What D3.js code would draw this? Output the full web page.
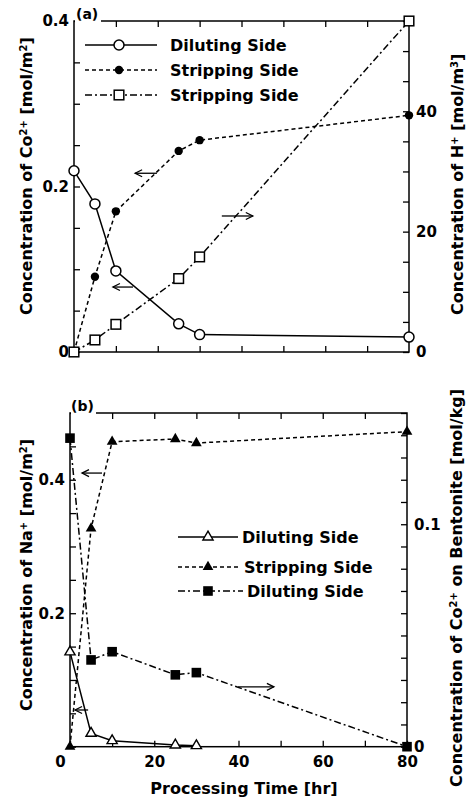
<!DOCTYPE html>
<html><head><meta charset="utf-8">
<script src="https://cdn.jsdelivr.net/npm/d3@7"></script>
<style>
body{margin:0;background:#fff}
svg{display:block}
text{font-family:"DejaVu Sans",sans-serif;font-weight:bold;fill:#000}
</style>
</head><body>
<svg id="c" width="466" height="800"></svg>
<script>
// ---------- data ----------
const times = [0, 5, 10, 25, 30, 80];
// panel (a)
const coDiluting  = [0.219, 0.179, 0.098, 0.034, 0.021, 0.018];   // mol/m2, left axis
const coStripping = [0, 0.091, 0.170, 0.243, 0.256, 0.286];       // mol/m2, left axis
const hStripping  = [0, 2.0, 4.6, 12.2, 15.8, 55];                // mol/m3, right axis
// panel (b)
const timesNaDil  = [0, 5, 10, 25, 30];
const naDiluting  = [0.142, 0.020, 0.009, 0.0025, 0.0015];        // mol/m2, left axis
const naStripping = [0, 0.327, 0.457, 0.461, 0.455, 0.472];       // mol/m2, left axis
const coBentonite = [0.1387, 0.039, 0.0427, 0.0323, 0.0333, 0];   // mol/kg, right axis
// ticks / labels
const xMinorTicks = [0, 10, 20, 30, 40, 50, 60, 70, 80];
const xLabelTicks = [0, 20, 40, 60, 80];
const aLeftTicks = [0, 0.05, 0.1, 0.15, 0.2, 0.25, 0.3, 0.35, 0.4];
const aLeftLabels = [0, 0.2, 0.4];
const aRightTicks = [0, 5, 10, 15, 20, 25, 30, 35, 40, 45, 50, 55];
const aRightLabels = [0, 20, 40];
const bLeftTicks = [0, 0.05, 0.1, 0.15, 0.2, 0.25, 0.3, 0.35, 0.4, 0.45, 0.5];
const bLeftLabels = [0.2, 0.4];
const bRightTicks = [0, 0.01, 0.02, 0.03, 0.04, 0.05, 0.06, 0.07, 0.08, 0.09, 0.1, 0.11, 0.12, 0.13, 0.14, 0.15];
const bRightLabels = [0, 0.1];
const legendA = ["Diluting Side", "Stripping Side", "Stripping Side"];
const legendB = ["Diluting Side", "Stripping Side", "Diluting Side"];

// ---------- setup ----------
const svg = d3.select("#c");
const fmt = d => d === 0 ? "0" : (Number.isInteger(d) ? String(d) : String(d));
const DASH = "4,3", DASHDOT = "7,3,2,3";

function frame(x, y) {
  svg.append("rect")
    .attr("x", x.range()[0]).attr("y", y.range()[1])
    .attr("width", x.range()[1] - x.range()[0])
    .attr("height", y.range()[0] - y.range()[1])
    .attr("fill", "none").attr("stroke", "#000").attr("stroke-width", 1.5);
}
function axis(gen, tr, ticks, labels, pad) {
  const g = svg.append("g").attr("transform", tr)
    .call(gen.tickValues(ticks).tickSize(-6).tickPadding(pad)
      .tickFormat(d => labels.some(l => Math.abs(l - d) < 1e-9) ? fmt(d) : ""));
  g.select(".domain").remove();
  g.selectAll(".tick line").attr("stroke", "#000").attr("stroke-width", 1.3);
  g.selectAll("text").style("font-size", "15px").style("font-family", '"DejaVu Sans",sans-serif').style("font-weight", "bold");
  return g;
}
function series(x, y, xs, ys, dash) {
  const line = d3.line().x((d, i) => x(xs[i])).y(d => y(d));
  svg.append("path").datum(ys).attr("d", line)
    .attr("fill", "none").attr("stroke", "#000").attr("stroke-width", 1.5)
    .attr("stroke-dasharray", dash);
}
function marker(g, kind, cx, cy) {
  if (kind === "openCircle") g.append("circle").attr("cx", cx).attr("cy", cy).attr("r", 5).attr("fill", "#fff").attr("stroke", "#000").attr("stroke-width", 1.5);
  if (kind === "filledCircle") g.append("circle").attr("cx", cx).attr("cy", cy).attr("r", 4.2).attr("fill", "#000");
  if (kind === "openSquare") g.append("rect").attr("x", cx - 4.8).attr("y", cy - 4.8).attr("width", 9.6).attr("height", 9.6).attr("fill", "#fff").attr("stroke", "#000").attr("stroke-width", 1.5);
  if (kind === "filledSquare") g.append("rect").attr("x", cx - 4.8).attr("y", cy - 4.8).attr("width", 9.6).attr("height", 9.6).attr("fill", "#000");
  if (kind === "openTri") g.append("path").attr("d", d3.symbol(d3.symbolTriangle, 45)()).attr("transform", `translate(${cx},${cy})`).attr("fill", "#fff").attr("stroke", "#000").attr("stroke-width", 1.4);
  if (kind === "filledTri") g.append("path").attr("d", d3.symbol(d3.symbolTriangle, 50)()).attr("transform", `translate(${cx},${cy})`).attr("fill", "#000");
}
function markers(x, y, xs, ys, kind) {
  const g = svg.append("g");
  ys.forEach((v, i) => marker(g, kind, x(xs[i]), y(v)));
}
function arrow(x1, y1, x2, y2) {
  const g = svg.append("g").attr("stroke", "#000").attr("stroke-width", 1.3).attr("fill", "none");
  g.append("line").attr("x1", x1).attr("y1", y1).attr("x2", x2).attr("y2", y2);
  const s = Math.sign(x2 - x1);
  g.append("path").attr("d", `M${x2 - s * 7},${y2 - 3.5}L${x2},${y2}L${x2 - s * 7},${y2 + 3.5}`);
}
function rotLabel(x, y, anchor, parts) {
  const t = svg.append("text").attr("transform", `translate(${x},${y}) rotate(-90)`)
    .attr("text-anchor", anchor).style("font-size", "16px");
  parts.forEach(p => {
    const ts = t.append("tspan").text(p.t);
    if (p.sup) ts.attr("baseline-shift", "super").style("font-size", "10px");
  });
}
function legend(x0, x1, xm, ys, xt, names, dashes, kinds) {
  names.forEach((n, i) => {
    svg.append("line").attr("x1", x0).attr("x2", x1[i]).attr("y1", ys[i]).attr("y2", ys[i])
      .attr("stroke", "#000").attr("stroke-width", 1.5).attr("stroke-dasharray", dashes[i]);
    marker(svg, kinds[i], xm, ys[i]);
    svg.append("text").attr("x", xt[i]).attr("y", ys[i] + 6).style("font-size", "16px").text(n);
  });
}

// ---------- panel (a) ----------
const xA = d3.scaleLinear([0, 80], [74, 409]);
const yAL = d3.scaleLinear([0, 0.4], [352, 21]);
const yAR = d3.scaleLinear([0, 55], [352, 21]);
frame(xA, yAL);
axis(d3.axisLeft(yAL), "translate(74,0)", aLeftTicks, aLeftLabels, 5);
axis(d3.axisRight(yAR), "translate(409,0)", aRightTicks, aRightLabels, 7);
axis(d3.axisBottom(xA), "translate(0,352)", xMinorTicks.slice(1, -1), [], 5);
axis(d3.axisTop(xA), "translate(0,21)", xMinorTicks.slice(1, -1), [], 5);

series(xA, yAL, times, coDiluting, null);
series(xA, yAL, times, coStripping, DASH);
series(xA, yAR, times, hStripping, DASHDOT);
markers(xA, yAL, times, coStripping, "filledCircle");
markers(xA, yAL, times, coDiluting, "openCircle");
markers(xA, yAR, times, hStripping, "openSquare");

arrow(xA(19.8), yAL(0.216), xA(14.6), yAL(0.216));
arrow(xA(14.1), yAL(0.0785), xA(9.3), yAL(0.0785));
arrow(xA(35.3), yAR(22.6), xA(42.7), yAR(22.6));

legend(85, [157, 157, 157], 119, [45, 70, 95], [170, 170, 170], legendA,
  [null, DASH, DASHDOT], ["openCircle", "filledCircle", "openSquare"]);

svg.append("rect").attr("x", 75).attr("y", 17).attr("width", 26).attr("height", 7).attr("fill", "#fff");
svg.append("text").attr("x", 76).attr("y", 19).style("font-size", "14px").text("(a)");

rotLabel(32, 315, "start", [{t: "Concentration of Co"}, {t: "2+", sup: true}, {t: " [mol/m"}, {t: "2", sup: true}, {t: "]"}]);
rotLabel(463, 315, "start", [{t: "Concentration of H"}, {t: "+", sup: true}, {t: " [mol/m"}, {t: "3", sup: true}, {t: "]"}]);

// ---------- panel (b) ----------
const xB = d3.scaleLinear([0, 80], [70, 407]);
const yBL = d3.scaleLinear([0, 0.5], [746.7, 413]);
const yBR = d3.scaleLinear([0, 0.15], [746.7, 413]);
frame(xB, yBL);
axis(d3.axisLeft(yBL), "translate(70,0)", bLeftTicks, bLeftLabels, 5);
axis(d3.axisRight(yBR), "translate(407,0)", bRightTicks, bRightLabels, 7);
const xb = axis(d3.axisBottom(xB), "translate(0,746.7)", xMinorTicks, xLabelTicks, 10);
xb.selectAll(".tick text").filter(d => d === 0).attr("dx", -10);
axis(d3.axisTop(xB), "translate(0,413)", xMinorTicks.slice(1, -1), [], 5);

series(xB, yBL, timesNaDil, naDiluting, null);
series(xB, yBL, times, naStripping, DASH);
series(xB, yBR, times, coBentonite, DASHDOT);
markers(xB, yBL, timesNaDil, naDiluting, "openTri");
markers(xB, yBL, times, naStripping, "filledTri");
markers(xB, yBR, times, coBentonite, "filledSquare");

arrow(xB(7.6), yBL(0.41), xB(2.85), yBL(0.41));
arrow(xB(4.3), yBL(0.055), xB(1.2), yBL(0.055));
arrow(xB(39.9), yBR(0.0269), xB(48.4), yBR(0.0269));

legend(178, [238, 240, 243], 208, [537, 567, 591], [242, 244, 247], legendB,
  [null, DASH, DASHDOT], ["openTri", "filledTri", "filledSquare"]);

svg.append("rect").attr("x", 71).attr("y", 409).attr("width", 25).attr("height", 7).attr("fill", "#fff");
svg.append("text").attr("x", 71).attr("y", 411).style("font-size", "14px").text("(b)");

rotLabel(32, 575, "middle", [{t: "Concentration of Na"}, {t: "+", sup: true}, {t: " [mol/m"}, {t: "2", sup: true}, {t: "]"}]);
rotLabel(462, 588, "middle", [{t: "Concentration of Co"}, {t: "2+", sup: true}, {t: " on Bentonite [mol/kg]"}]);

svg.append("text").attr("x", 244).attr("y", 794).attr("text-anchor", "middle").style("font-size", "16px").text("Processing Time [hr]");
</script>
</body></html>
